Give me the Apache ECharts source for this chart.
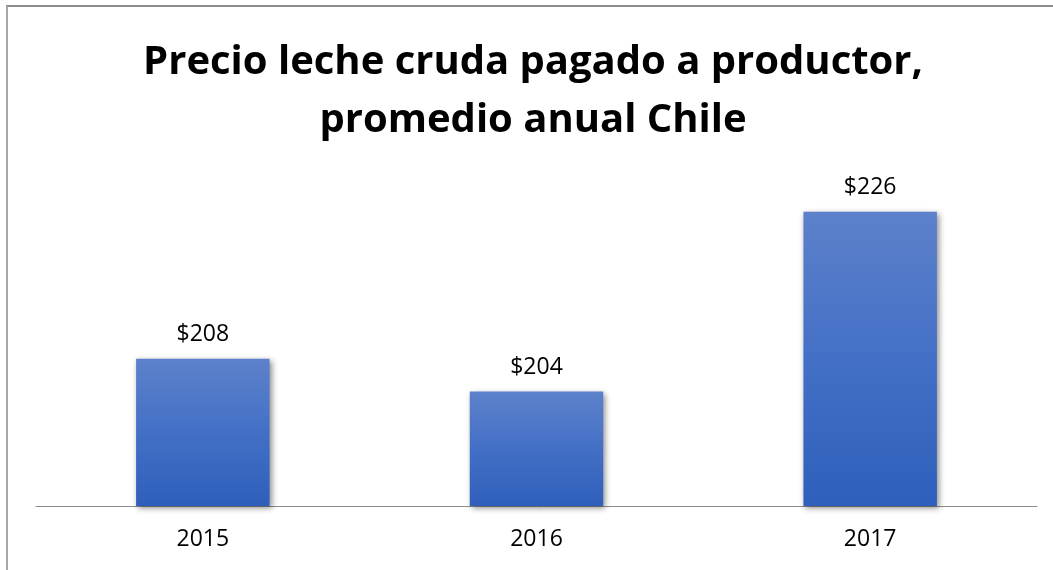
<!DOCTYPE html>
<html>
<head>
<meta charset="utf-8">
<script src="https://cdn.jsdelivr.net/npm/echarts@6/dist/echarts.min.js"></script>
<style>
    html, body { margin: 0; padding: 0; background: #fff; }
    #frame { position: absolute; left: 6px; top: 5px; width: 1060px; height: 580px;
             border-top: 2px solid #8c8c8c; border-left: 2px solid #a8a8a8; }
    #chart { position: absolute; left: 0; top: 0; width: 1053px; height: 570px; }
</style>
</head>
<body>
<div id="frame"></div>
<div id="chart"></div>
<script>
    // datos
    var years = ['2015', '2016', '2017'];
    var prices = [208, 204, 226];
    var titleText = 'Precio leche cruda pagado a productor,\npromedio anual Chile';

    var myChart = echarts.init(document.getElementById('chart'));
    var option = {
        animation: false,
        title: {
            text: titleText,
            left: 528,
            top: 29,
            textAlign: 'center',
            textStyle: {
                fontFamily: 'Open Sans',
                fontWeight: 'bold',
                fontSize: 40,
                lineHeight: 58,
                color: '#000'
            }
        },
        grid: { left: 36, right: 16, top: 179, bottom: 64 },
        xAxis: {
            type: 'category',
            data: years,
            axisTick: { show: false },
            axisLine: { lineStyle: { color: '#8c8c8c', width: 1 } },
            axisLabel: {
                margin: 22,
                fontFamily: 'Open Sans',
                fontSize: 23,
                color: '#000'
            }
        },
        yAxis: {
            type: 'value',
            min: 190,
            max: 230,
            show: false,
            splitLine: { show: false }
        },
        series: [{
            type: 'bar',
            data: prices,
            barWidth: '40%',
            itemStyle: {
                color: new echarts.graphic.LinearGradient(0, 0, 0, 1, [
                    { offset: 0, color: '#5d81cb' },
                    { offset: 0.5, color: '#4370c6' },
                    { offset: 1, color: '#2f5fbb' }
                ]),
                shadowColor: 'rgba(0,0,0,0.45)',
                shadowBlur: 6,
                shadowOffsetX: 2,
                shadowOffsetY: 2
            },
            label: {
                show: true,
                position: 'top',
                distance: 13,
                formatter: function (p) { return '$' + p.value; },
                fontFamily: 'Open Sans',
                fontSize: 23,
                color: '#000'
            }
        }]
    };
    myChart.setOption(option);
</script>
</body>
</html>
